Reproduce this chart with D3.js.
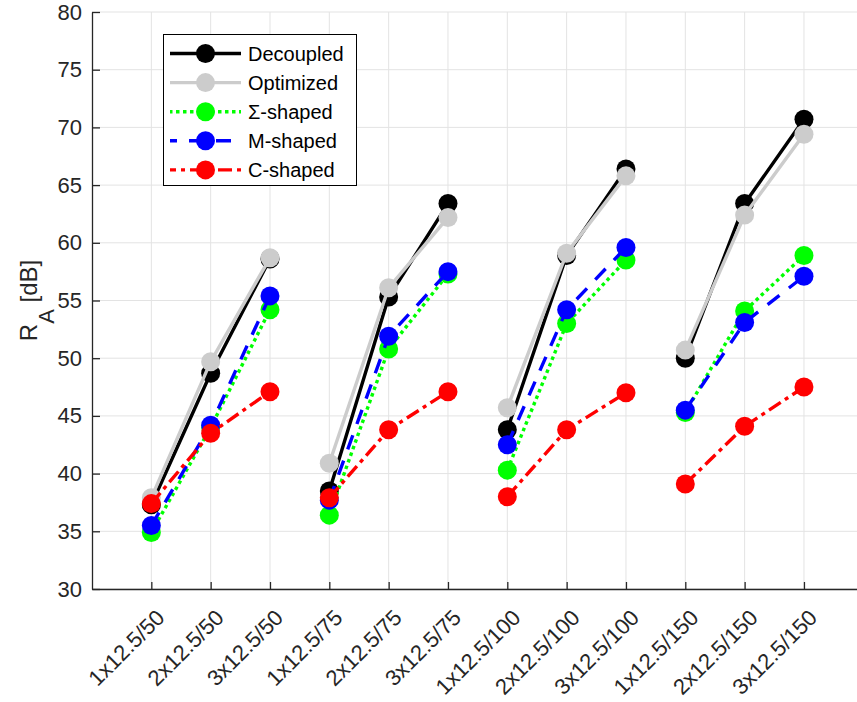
<!DOCTYPE html>
<html>
<head>
<meta charset="utf-8">
<script src="https://cdn.jsdelivr.net/npm/d3@7"></script>
<style>
  html, body { margin: 0; padding: 0; background: #fff; }
  svg { display: block; font-family: "Liberation Sans", Arial, Helvetica, sans-serif; }
</style>
</head>
<body>
<svg id="chart" width="857" height="702"></svg>
<script>
// Wall configurations (layers x thickness / cavity)
const categories = [
  "1x12.5/50", "2x12.5/50", "3x12.5/50",
  "1x12.5/75", "2x12.5/75", "3x12.5/75",
  "1x12.5/100", "2x12.5/100", "3x12.5/100",
  "1x12.5/150", "2x12.5/150", "3x12.5/150"
];
// Weighted sound reduction index R_A [dB] per stud type
const decoupled = [37.3, 48.7, 58.6, 38.5, 55.3, 63.4, 43.8, 58.9, 66.4, 50.0, 63.4, 70.7];
const optimized = [37.9, 49.7, 58.7, 40.9, 56.1, 62.2, 45.7, 59.1, 65.8, 50.7, 62.4, 69.4];
const sigmaShaped = [34.9, 44.0, 54.2, 36.4, 50.8, 57.3, 40.3, 53.0, 58.5, 45.3, 54.1, 58.9];
const mShaped = [35.5, 44.2, 55.4, 37.7, 51.9, 57.5, 42.5, 54.2, 59.6, 45.5, 53.1, 57.1];
const cShaped = [37.4, 43.5, 47.1, 37.9, 43.8, 47.1, 38.0, 43.8, 47.0, 39.1, 44.1, 47.5];
const yTicks = [30, 35, 40, 45, 50, 55, 60, 65, 70, 75, 80];
const groupSize = 3; // points joined within each cavity group

const series = [
  { name: "Decoupled", values: decoupled, color: "#000000", dash: null },
  { name: "Optimized", values: optimized, color: "#cccccc", dash: null },
  { name: "\u03A3-shaped", values: sigmaShaped, color: "#00ff00", dash: "3.5,3.5" },
  { name: "M-shaped", values: mShaped, color: "#0000ff", dash: "15,12" },
  { name: "C-shaped", values: cShaped, color: "#ff0000", dash: "14,5,4,5" }
];

const svg = d3.select("#chart");
const plotLeft = 92, plotTop = 12, plotBottom = 589;
const step = 59.33;
const x = d3.scaleLinear().domain([0, categories.length + 1])
  .range([plotLeft, plotLeft + step * (categories.length + 1)]);
const y = d3.scaleLinear().domain([30, 80]).range([plotBottom, plotTop]);
const plotRight = x.range()[1];

const axisColor = "#262626";
const gridColor = "#e3e3e3";

// Grid
const grid = svg.append("g");
grid.selectAll("line.h").data(yTicks).join("line").attr("class", "h")
  .attr("x1", plotLeft).attr("x2", plotRight)
  .attr("y1", d => y(d)).attr("y2", d => y(d))
  .attr("stroke", gridColor).attr("stroke-width", 1);
grid.selectAll("line.v").data(categories).join("line").attr("class", "v")
  .attr("x1", (d, i) => x(i + 1)).attr("x2", (d, i) => x(i + 1))
  .attr("y1", plotTop).attr("y2", plotBottom)
  .attr("stroke", gridColor).attr("stroke-width", 1);

// Y axis
const yAxis = d3.axisLeft(y).tickValues(yTicks).tickSizeInner(-8).tickSizeOuter(0).tickPadding(10);
const gy = svg.append("g").attr("transform", `translate(${plotLeft},0)`).call(yAxis);
gy.select(".domain").attr("stroke", axisColor).attr("stroke-width", 1.3);
gy.selectAll(".tick line").attr("stroke", axisColor).attr("stroke-width", 1.3);
gy.selectAll(".tick text").attr("fill", axisColor).attr("font-size", 22)
  .attr("font-family", "Liberation Sans, Arial, sans-serif");

// X axis
const xAxis = d3.axisBottom(x).tickValues(d3.range(1, categories.length + 1))
  .tickFormat(i => categories[i - 1]).tickSizeInner(-7).tickSizeOuter(0);
const gx = svg.append("g").attr("transform", `translate(0,${plotBottom})`).call(xAxis);
gx.select(".domain").attr("stroke", axisColor).attr("stroke-width", 1.3);
gx.selectAll(".tick line").attr("stroke", axisColor).attr("stroke-width", 1.3);
gx.selectAll(".tick text")
  .attr("fill", axisColor).attr("font-size", 22)
  .attr("font-family", "Liberation Sans, Arial, sans-serif")
  .attr("text-anchor", "end")
  .attr("dy", null).attr("y", null)
  .attr("transform", "translate(14,30) rotate(-45)");

// Y label
const yl = svg.append("text")
  .attr("transform", `translate(37,${(plotTop + plotBottom) / 2}) rotate(-90)`)
  .attr("text-anchor", "middle").attr("fill", axisColor).attr("font-size", 24);
yl.append("tspan").text("R");
yl.append("tspan").attr("dy", 17).attr("font-size", 22).text("A");
yl.append("tspan").attr("dy", -17).text(" [dB]");

// Series: lines per group of three, then markers
const line = d3.line().x(d => x(d.i + 1)).y(d => y(d.v));
series.forEach(s => {
  const pts = s.values.map((v, i) => ({ v, i }));
  const groups = d3.groups(pts, d => Math.floor(d.i / groupSize)).map(g => g[1]);
  const g = svg.append("g");
  g.selectAll("path").data(groups).join("path")
    .attr("d", line).attr("fill", "none")
    .attr("stroke", s.color).attr("stroke-width", 3.4)
    .attr("stroke-dasharray", s.dash);
  g.selectAll("circle").data(pts).join("circle")
    .attr("cx", d => x(d.i + 1)).attr("cy", d => y(d.v)).attr("r", 9.5)
    .attr("fill", s.color);
});

// Legend
const lg = svg.append("g");
lg.append("rect").attr("x", 163.5).attr("y", 34.5).attr("width", 193).attr("height", 151)
  .attr("fill", "#fff").attr("stroke", "#000").attr("stroke-width", 1);
series.forEach((s, k) => {
  const cy = 53.5 + k * 29.1;
  lg.append("line").attr("x1", 170).attr("x2", 241).attr("y1", cy).attr("y2", cy)
    .attr("stroke", s.color).attr("stroke-width", 3.4).attr("stroke-dasharray", s.dash)
    .attr("stroke-dashoffset", s.dash ? 8 : null);
  lg.append("circle").attr("cx", 205.5).attr("cy", cy).attr("r", 9.5).attr("fill", s.color);
  lg.append("text").attr("x", 248).attr("y", cy + 7.5).attr("font-size", 20)
    .attr("fill", "#000").text(s.name);
});
</script>
</body>
</html>
